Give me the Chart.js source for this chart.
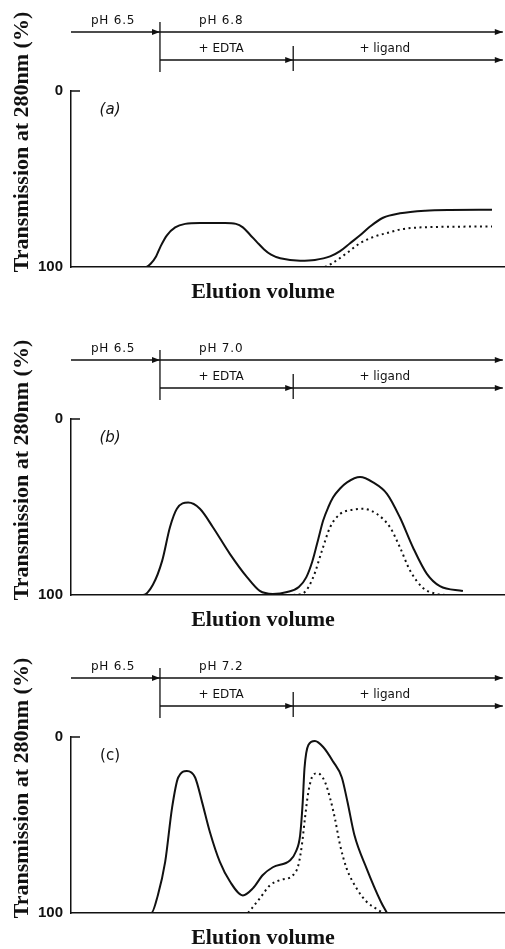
<!DOCTYPE html>
<html>
<head>
<meta charset="utf-8">
<script src="https://cdn.jsdelivr.net/npm/chart.js@4"></script>
<style>
html, body { margin: 0; padding: 0; background: #fff; }
body { width: 505px; height: 949px; position: relative; overflow: hidden; }
.panel { position: absolute; left: 0; width: 505px; }
</style>
</head>
<body>
<div class="panel" style="top:0;height:328px"><canvas id="chartA"></canvas></div>
<div class="panel" style="top:328px;height:318px"><canvas id="chartB"></canvas></div>
<div class="panel" style="top:646px;height:303px"><canvas id="chartC"></canvas></div>
<script>
// elution volume (arbitrary units, 0-100) and transmission (%)
var aSolidVol = [0, 17.3, 18.4, 19.6, 20.7, 22.1, 24.0, 26.3, 29.7, 35.5, 38.0, 39.6, 41.2, 42.9, 44.5, 46.1, 48.2, 52.8, 56.2, 59.7, 62.0, 64.3, 66.6, 68.9, 71.9, 75.8, 81.6, 87.3, 97.0];
var aSolidT   = [100, 100, 98, 94, 88, 82, 77.5, 75.5, 75, 75, 75.5, 77.5, 81.5, 86, 90, 93, 95, 96.4, 96, 94, 91, 86.5, 82, 77, 72, 69.5, 68, 67.6, 67.5];
var aDotVol   = [58.5, 60.1, 63.6, 66.6, 69.6, 72.8, 76.5, 83.4, 97.0];
var aDotT     = [100, 98, 92, 86.5, 83, 80.7, 78.4, 77.3, 77];

var bSolidVol = [0, 16.6, 18.9, 21.0, 22.8, 24.4, 27.0, 29.7, 32.7, 36.6, 40.6, 43.5, 46.5, 49.8, 52.5, 54.2, 55.6, 57.0, 58.1, 59.3, 60.4, 62.0, 63.6, 66.6, 69.6, 72.8, 75.8, 78.8, 82.0, 85.0, 90.3];
var bSolidT   = [100, 100, 94, 80.6, 61.5, 51, 47.5, 51, 61.5, 76.6, 90, 97.7, 99.4, 98.3, 95.5, 90, 81, 68, 57.7, 50, 44.5, 39.5, 36, 33, 36, 42.5, 56, 73, 88, 95, 97.7];
var bDotVol   = [51.2, 53.5, 55.8, 57.8, 59.7, 62.0, 65.0, 67.3, 70.5, 73.5, 75.8, 78.1, 81.1, 84.3, 86.2];
var bDotT     = [100, 99, 90, 75, 61.5, 54, 51.5, 51, 54, 61.5, 73, 86, 96, 99.4, 100];

var cSolidVol = [0, 18.5, 20.0, 21.7, 23.3, 24.7, 26.7, 28.6, 30.2, 32.0, 34.3, 36.6, 39.6, 41.9, 44.2, 46.5, 50.5, 51.8, 52.8, 53.4, 53.8, 54.7, 56.2, 58.1, 60.4, 62.4, 63.7, 65.3, 68.1, 71.4, 72.8];
var cSolidT   = [100, 100, 90, 71, 40, 23, 19.3, 23, 37, 54, 71, 82, 90, 86, 78.4, 74, 70, 65.2, 55.7, 36.7, 17.8, 4.5, 2.3, 5.7, 14, 23, 36.8, 55.7, 74.6, 93.6, 100];
var cDotVol   = [40.8, 43.5, 45.9, 48.2, 51.2, 52.4, 53.2, 53.9, 54.7, 55.8, 56.8, 58.5, 59.7, 60.8, 62.0, 63.5, 65.8, 68.1, 70.8, 71.9];
var cDotT     = [100, 91.7, 84.1, 81.3, 78.4, 72.7, 61.4, 46.2, 31.1, 21.6, 20.6, 25.4, 34.8, 46.2, 61.4, 74.6, 86, 93.6, 98.3, 100];

// where the buffer changes happen (same volume units) and the labels of the arrows
var phaseBreaks = [20.5, 51.2];
var arrowEnd = 99.5;
var phLabels = ['pH 6.8', 'pH 7.0', 'pH 7.2'];
var panelTags = ['(a)', '(b)', '(c)'];
var yTicks = [0, 100];

function pts(xs, ys) {
    return xs.map(function (v, i) { return { x: v, y: ys[i] }; });
}

var panelDecor = {
    id: 'panelDecor',
    afterDraw: function (chart, args, opts) {
        var ctx = chart.ctx;
        var area = chart.chartArea;
        var xs = chart.scales.x;
        var top = area.top;
        var p0 = xs.getPixelForValue(0);
        var p1 = xs.getPixelForValue(phaseBreaks[0]);
        var p2 = xs.getPixelForValue(phaseBreaks[1]);
        var pe = xs.getPixelForValue(arrowEnd);

        function line(x1, y1, x2, y2) {
            ctx.beginPath();
            ctx.moveTo(x1, y1);
            ctx.lineTo(x2, y2);
            ctx.stroke();
        }
        function head(x, y) {
            ctx.beginPath();
            ctx.moveTo(x, y);
            ctx.lineTo(x - 8, y - 3);
            ctx.lineTo(x - 8, y + 3);
            ctx.closePath();
            ctx.fill();
        }

        ctx.save();
        ctx.strokeStyle = '#111';
        ctx.fillStyle = '#111';
        ctx.lineWidth = 1.3;

        // buffer arrows
        var r1 = top - 59, r2 = top - 31;
        line(p0, r1, pe, r1);
        head(p1, r1);
        head(pe, r1);
        line(p1, r2, pe, r2);
        head(p2, r2);
        head(pe, r2);
        line(p1, top - 69, p1, top - 19);
        line(p2, top - 45, p2, top - 20);

        ctx.textAlign = 'center';
        ctx.textBaseline = 'middle';
        ctx.font = '12px "DejaVu Sans"';
        ctx.letterSpacing = '0.8px';
        ctx.fillText('pH 6.5', xs.getPixelForValue(9.7), top - 70);
        ctx.fillText(opts.ph, xs.getPixelForValue(34.6), top - 70);
        ctx.letterSpacing = '0px';
        ctx.fillText('+ EDTA', xs.getPixelForValue(34.6), top - 42);
        ctx.fillText('+ ligand', xs.getPixelForValue(72.3), top - 42);

        // small inward tick at 0
        ctx.lineWidth = 1.5;
        line(area.left, top, area.left + 9, top);

        // panel tag
        ctx.font = (opts.italic ? 'italic ' : '') + '15px "DejaVu Sans"';
        ctx.fillText(opts.tag, xs.getPixelForValue(9.0), top + 19);

        // axis titles
        ctx.font = 'bold 22px "Liberation Serif"';
        ctx.fillText('Elution volume', 263, area.bottom + 25);
        ctx.save();
        ctx.translate(22, top + 51);
        ctx.rotate(-Math.PI / 2);
        ctx.fillText('Transmission at 280nm (%)', 0, 0);
        ctx.restore();

        ctx.restore();
    }
};

function makePanel(id, solid, dotted, idx, padBottom) {
    var ctx = document.getElementById(id).getContext('2d');
    return new Chart(ctx, {
        type: 'line',
        data: {
            datasets: [
                {
                    data: solid,
                    borderColor: '#111',
                    borderWidth: 2,
                    pointRadius: 0,
                    fill: false,
                    cubicInterpolationMode: 'monotone'
                },
                {
                    data: dotted,
                    borderColor: '#111',
                    borderWidth: 2,
                    borderDash: [2, 3.5],
                    pointRadius: 0,
                    fill: false,
                    cubicInterpolationMode: 'monotone'
                }
            ]
        },
        options: {
            responsive: true,
            maintainAspectRatio: false,
            animation: false,
            layout: { padding: { top: 91, bottom: padBottom, left: 0, right: 0 } },
            plugins: {
                legend: { display: false },
                tooltip: { enabled: false },
                panelDecor: { ph: phLabels[idx], tag: panelTags[idx], italic: idx < 2 }
            },
            scales: {
                x: {
                    type: 'linear',
                    min: 0,
                    max: 100,
                    grid: { display: false, drawTicks: false },
                    border: { display: true, color: '#111', width: 1.5 },
                    ticks: { display: false }
                },
                y: {
                    type: 'linear',
                    min: 0,
                    max: 100,
                    reverse: true,
                    afterBuildTicks: function (s) {
                        s.ticks = yTicks.map(function (v) { return { value: v }; });
                    },
                    afterFit: function (s) { s.width = 71; },
                    grid: { display: false, drawTicks: false },
                    border: { display: true, color: '#111', width: 1.5 },
                    ticks: {
                        color: '#111',
                        padding: 8,
                        font: { family: '"Liberation Sans"', size: 15, weight: 'bold' }
                    }
                }
            }
        },
        plugins: [panelDecor]
    });
}

makePanel('chartA', pts(aSolidVol, aSolidT), pts(aDotVol, aDotT), 0, 61);
makePanel('chartB', pts(bSolidVol, bSolidT), pts(bDotVol, bDotT), 1, 51);
makePanel('chartC', pts(cSolidVol, cSolidT), pts(cDotVol, cDotT), 2, 36);
</script>
</body>
</html>
